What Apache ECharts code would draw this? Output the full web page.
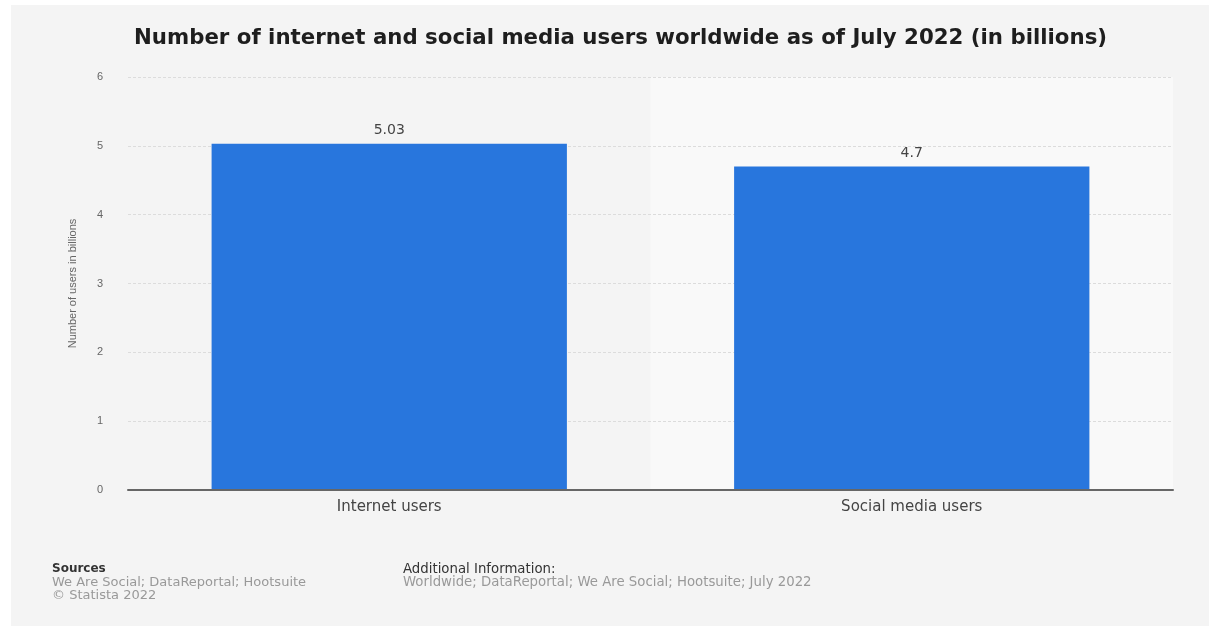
<!DOCTYPE html>
<html>
<head>
<meta charset="utf-8">
<script src="https://cdn.jsdelivr.net/npm/echarts@6/dist/echarts.min.js"></script>
<style>
html,body{margin:0;padding:0;background:#ffffff;}
#bg{position:absolute;left:11px;top:5px;width:1198px;height:621px;background:#f4f4f4;}
#c{position:absolute;left:0;top:0;width:1209px;height:626px;}
</style>
</head>
<body>
<div id="bg"></div>
<div id="c"></div>
<script>
const categories = ['Internet users', 'Social media users'];
const users = [5.03, 4.7];
const yTicks = [0, 1, 2, 3, 4, 5, 6];
const titleText = 'Number of internet and social media users worldwide as of July 2022 (in billions)';
const yAxisName = 'Number of users in billions';

const chart = echarts.init(document.getElementById('c'), null, {renderer: 'canvas'});
const FONT = '"DejaVu Sans", "Liberation Sans", Arial, sans-serif';
const NARROW = '"Liberation Sans", Arial, sans-serif';
chart.setOption({
  backgroundColor: 'transparent',
  animation: false,
  title: {
    text: titleText,
    left: 129,
    top: 23,
    textStyle: {fontFamily: FONT, fontSize: 21.3, fontWeight: 'bold', color: '#1e1e1e'}
  },
  grid: {left: 128, right: 36, top: 77, bottom: 136},
  xAxis: [{
    type: 'category',
    data: categories,
    z: 3,
    axisLine: {lineStyle: {color: '#666', width: 2}},
    axisTick: {show: false},
    axisLabel: {color: '#444', fontSize: 15, fontFamily: FONT, margin: 10},
    splitArea: {show: false}
  }, {
    type: 'category',
    data: categories,
    position: 'bottom',
    z: 0,
    axisLine: {show: false},
    axisTick: {show: false},
    axisLabel: {show: false},
    splitArea: {show: true, areaStyle: {color: ['rgba(0,0,0,0)', '#f9f9f9']}}
  }],
  yAxis: {
    type: 'value',
    z: 1,
    min: yTicks[0],
    max: yTicks[yTicks.length - 1],
    interval: 1,
    name: yAxisName,
    nameLocation: 'middle',
    nameRotate: 90,
    nameGap: 50,
    nameTextStyle: {color: '#666', fontSize: 11, fontFamily: NARROW},
    axisLine: {show: false},
    axisTick: {show: false},
    axisLabel: {color: '#666', fontSize: 11, fontFamily: NARROW, margin: 25},
    splitLine: {lineStyle: {color: '#dcdcdc', type: [3, 2], width: 1}}
  },
  series: [{
    type: 'bar',
    z: 2,
    xAxisIndex: 0,
    data: users,
    barWidth: '68%',
    itemStyle: {color: '#2876dd'},
    label: {show: true, position: 'top', distance: 6, color: '#444', fontSize: 14, fontFamily: FONT}
  }],
  graphic: [
    {type: 'text', left: 52, top: 563, style: {text: 'Sources', fill: '#333', font: 'bold 12px ' + FONT}},
    {type: 'text', left: 52, top: 576, style: {text: 'We Are Social; DataReportal; Hootsuite', fill: '#999', font: '13px ' + FONT}},
    {type: 'text', left: 52, top: 589, style: {text: '© Statista 2022', fill: '#999', font: '13px ' + FONT}},
    {type: 'text', left: 403, top: 563, style: {text: 'Additional Information:', fill: '#333', font: '13.3px ' + FONT}},
    {type: 'text', left: 403, top: 576, style: {text: 'Worldwide; DataReportal; We Are Social; Hootsuite; July 2022', fill: '#999', font: '13.3px ' + FONT}}
  ]
});
</script>
</body>
</html>
